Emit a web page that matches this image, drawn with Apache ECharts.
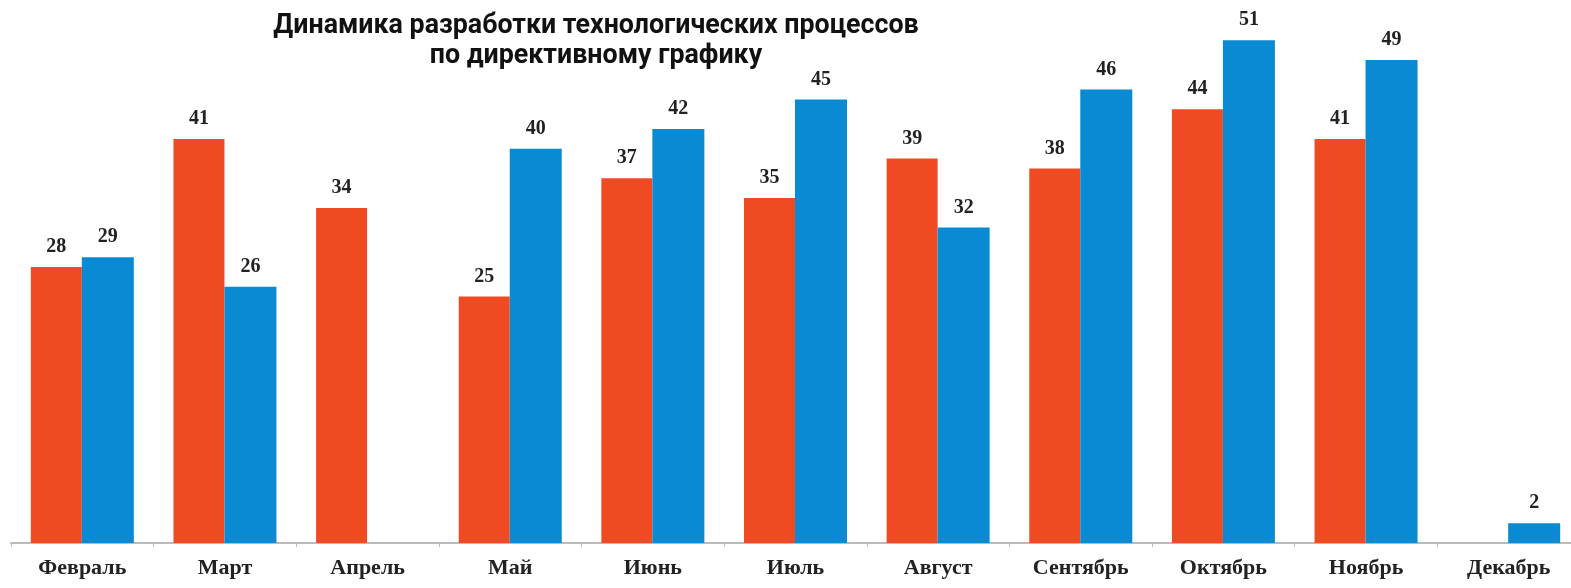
<!DOCTYPE html>
<html><head><meta charset="utf-8">
<script src="https://cdn.jsdelivr.net/npm/echarts@6/dist/echarts.min.js"></script>
<style>html,body{margin:0;padding:0;background:#fff}#c{width:1571px;height:588px}</style>
</head><body><div id="c"></div>
<script>
const categories = ['Февраль','Март','Апрель','Май','Июнь','Июль','Август','Сентябрь','Октябрь','Ноябрь','Декабрь'];
const seriesRed = [28, 41, 34, 25, 37, 35, 39, 38, 44, 41, null];
const seriesBlue = [29, 26, null, 40, 42, 45, 32, 46, 51, 49, 2];
const titleText = 'Динамика разработки технологических процессов\nпо директивному графику';

const chart = echarts.init(document.getElementById('c'), null, {renderer: 'canvas'});
const labelStyle = {show: true, position: 'top', distance: 10, fontFamily: 'Liberation Serif', fontWeight: 'bold', fontSize: 20, color: '#222'};
chart.setOption({
  animation: false,
  title: {text: titleText, left: 591, top: 6, textAlign: 'center',
    textStyle: {fontFamily: 'Roboto', fontWeight: 'bold', fontSize: 26.8, lineHeight: 30, color: '#111'}},
  grid: {left: 11, right: -9, top: 0.9, bottom: 45, outerBoundsMode: 'none', containLabel: false},
  xAxis: {type: 'category', data: categories,
    axisLine: {lineStyle: {color: '#bbb', width: 2}},
    axisTick: {show: true, lineStyle: {color: '#bbb'}, length: 4},
    axisLabel: {fontFamily: 'Liberation Serif', fontWeight: 'bold', fontSize: 22, color: '#222', margin: 14, interval: 0}},
  yAxis: {type: 'value', min: 0, max: 55, show: false, splitLine: {show: false}},
  series: [
    {type: 'bar', data: seriesRed, barWidth: 51, barGap: '0%', itemStyle: {color: '#F04A22'}, label: labelStyle},
    {type: 'bar', data: seriesBlue, barWidth: 52, barGap: '0%', itemStyle: {color: '#0A8AD2'}, label: labelStyle}
  ]
});
</script></body></html>
